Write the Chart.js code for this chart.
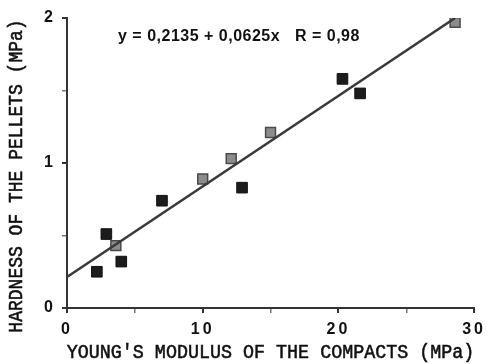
<!DOCTYPE html>
<html><head><meta charset="utf-8">
<script src="https://cdn.jsdelivr.net/npm/chart.js@4.4.1/dist/chart.umd.min.js"></script>
<style>html,body{margin:0;padding:0;background:#fff}#wrap{width:490px;height:364px}</style>
</head><body><div id="wrap"><canvas id="c" width="490" height="364"></canvas></div>
<script>
// Data
const darkX = [2.2, 2.9, 4.0, 7.0, 12.9, 20.3, 21.6];
const darkY = [0.25, 0.51, 0.32, 0.74, 0.83, 1.58, 1.48];
const grayX = [3.6, 10.0, 12.1, 15.0, 28.6];
const grayY = [0.43, 0.89, 1.03, 1.21, 1.97];
const fitX = [0, 28.6];
const fitY = [0.2135, 2.0];
const xTicks = [0, 10, 20, 30];
const yTicks = [0, 1, 2];
const xTitle = "YOUNG'S MODULUS OF THE COMPACTS (MPa)";
const yTitle = "HARDNESS OF THE PELLETS (MPa)";
const equation = "y = 0,2135 + 0,0625x   R = 0,98";

const pts = (xs, ys) => xs.map((x, i) => ({x, y: ys[i]}));

const spacingPlugin = {
  id: 'spacing',
  beforeDraw(chart) { chart.ctx.letterSpacing = '3px'; },
  beforeDatasetsDraw(chart) { chart.ctx.letterSpacing = '0px'; }
};

const titlesPlugin = {
  id: 'titles',
  afterDraw(chart) {
    const ctx = chart.ctx, xs = chart.scales.x;
    ctx.save();
    ctx.letterSpacing = '0px';
    ctx.fillStyle = '#111';
    ctx.strokeStyle = '#111';
    ctx.lineWidth = 0.5;
    ctx.font = '18px "Liberation Mono", monospace';
    ctx.textAlign = 'center';
    ctx.textBaseline = 'middle';
    // x title
    ctx.save();
    ctx.translate((xs.left + xs.right) / 2, 353);
    ctx.scale(1.02, 1.15);
    ctx.fillText(xTitle, 0, 0);
    ctx.strokeText(xTitle, 0, 0);
    ctx.restore();
    // y title
    ctx.save();
    ctx.translate(17, 176);
    ctx.rotate(-Math.PI / 2);
    ctx.scale(1, 1.15);
    ctx.fillText(yTitle, 0, 0);
    ctx.strokeText(yTitle, 0, 0);
    ctx.restore();
    // equation
    ctx.font = 'bold 16px "Liberation Sans", Arial, sans-serif';
    ctx.letterSpacing = '0.5px';
    ctx.fillStyle = '#111';
    ctx.textAlign = 'left';
    ctx.fillText(equation, 118, 37);
    ctx.restore();
  }
};

new Chart(document.getElementById('c'), {
  type: 'scatter',
  data: {
    datasets: [
      {
        type: 'line', data: pts(fitX, fitY), borderColor: '#3a3a3a', borderWidth: 2.5,
        pointRadius: 0, fill: false, order: 1
      },
      {
        data: pts(darkX, darkY), pointStyle: 'rect', pointRadius: 7.5,
        backgroundColor: '#1c1c1c', borderColor: '#111', borderWidth: 1, order: 2
      },
      {
        data: pts(grayX, grayY), pointStyle: 'rect', pointRadius: 7,
        backgroundColor: '#8c8c8c', borderColor: '#4a4a4a', borderWidth: 1.5, order: 2
      }
    ]
  },
  options: {
    responsive: false, animation: false, devicePixelRatio: 1,
    layout: { padding: { top: 18, right: 10, left: 0, bottom: 0 } },
    plugins: { legend: { display: false }, tooltip: { enabled: false } },
    scales: {
      x: {
        type: 'linear', min: 0, max: 30,
        afterFit(s) { s.height = 56; },
        afterBuildTicks(s) { s.ticks = [0,5,10,15,20,25,30].map(v => ({value: v})); },
        border: { display: true, color: '#333', width: 2 },
        grid: { drawOnChartArea: false, drawTicks: true, tickLength: 5,
                color: (c) => (c.tick && c.tick.value % 10 === 0) ? '#333' : '#777',
                lineWidth: (c) => (c.tick && c.tick.value % 10 === 0) ? 2 : 1.5 },
        ticks: {
          padding: 7, color: '#111', maxRotation: 0,
          font: { family: '"Liberation Sans", Arial, sans-serif', size: 16, weight: 'bold' },
          callback: (v) => xTicks.includes(v) ? String(v) : ''
        }
      },
      y: {
        type: 'linear', min: 0, max: 2,
        afterFit(s) { s.width = 67; },
        afterBuildTicks(s) { s.ticks = [0,0.5,1,1.5,2].map(v => ({value: v})); },
        border: { display: true, color: '#333', width: 2 },
        grid: { drawOnChartArea: false, drawTicks: true, tickLength: 5,
                color: (c) => (c.tick && Number.isInteger(c.tick.value)) ? '#333' : '#777',
                lineWidth: (c) => (c.tick && Number.isInteger(c.tick.value)) ? 2 : 1.5 },
        ticks: {
          padding: 6, color: '#111',
          font: { family: '"Liberation Sans", Arial, sans-serif', size: 16, weight: 'bold' },
          callback: (v) => yTicks.includes(v) ? String(v) : ''
        }
      }
    }
  },
  plugins: [spacingPlugin, titlesPlugin]
});
</script>
</body></html>
